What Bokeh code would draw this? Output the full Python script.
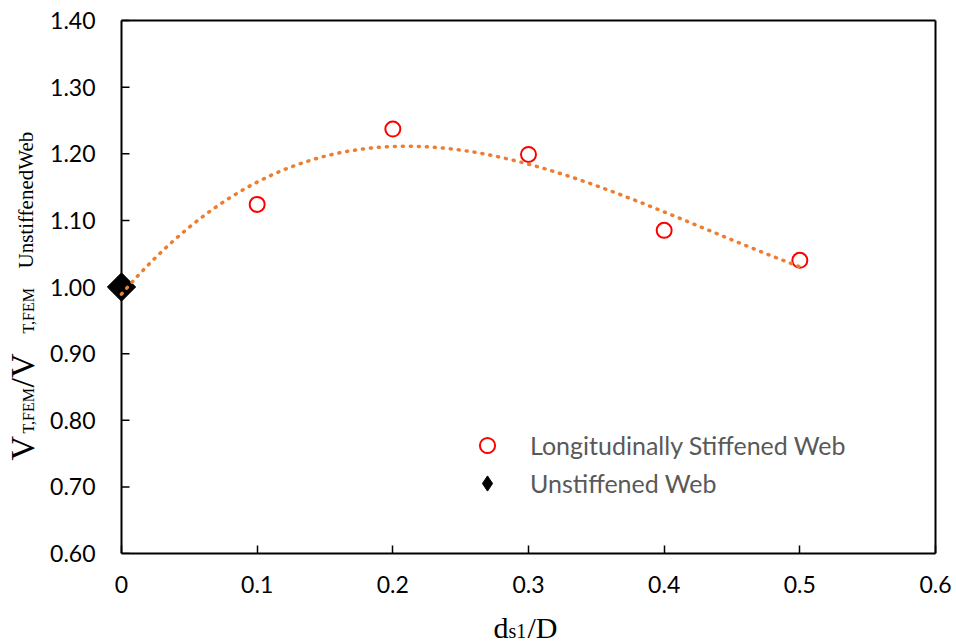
import numpy as np
from bokeh.plotting import figure
from bokeh.layouts import row, column
from bokeh.models import (ColumnDataSource, Legend, LegendItem, Label, FixedTicker,
                          NumeralTickFormatter, Range1d)
from bokeh.embed import file_html
from bokeh.resources import INLINE

# ---- data ----
stiff_x = [0.0, 0.1, 0.2, 0.3, 0.4, 0.5]
stiff_y = [1.000, 1.124, 1.237, 1.199, 1.085, 1.040]
unstiff_x = [0.0]
unstiff_y = [1.000]
x_ticks = [0.0, 0.1, 0.2, 0.3, 0.4, 0.5, 0.6]
y_ticks = [0.6, 0.7, 0.8, 0.9, 1.0, 1.1, 1.2, 1.3, 1.4]

# polynomial (order 3) trendline fitted to the stiffened-web series
coef = np.polyfit(stiff_x, stiff_y, 3)
trend_x = np.linspace(min(stiff_x), max(stiff_x), 200)
trend_y = np.polyval(coef, trend_x)

# ---- geometry (pixels) ----
W, H = 956, 643
LW = 45            # width of the left strip carrying the y title
BH = 40            # height of the bottom strip carrying the x title
MW, MH = W - LW, H - BH
AX0, AX1 = 121, 935   # canvas x of x=0 and x=0.6
AY1, AY0 = 20, 553    # canvas y of y=1.4 and y=0.6
FL, FR, FT = 106, 937, 18   # frame edges (slightly wider so edge markers are not cut)

xmin, xmax = min(x_ticks), max(x_ticks)
ymin, ymax = min(y_ticks), max(y_ticks)
dx = (xmax - xmin) / (AX1 - AX0)
dy = (ymax - ymin) / (AY0 - AY1)

p = figure(width=MW, height=MH, output_backend="svg", toolbar_location=None,
           x_range=Range1d(xmin - (AX0 - FL) * dx, xmax + (FR - AX1) * dx),
           y_range=Range1d(ymin, ymax + (AY1 - FT) * dy),
           min_border_left=FL - LW, min_border_right=W - FR,
           min_border_top=FT, min_border_bottom=MH - AY0)
p.grid.visible = False
p.outline_line_color = None
p.background_fill_color = "white"
p.border_fill_color = "white"

xa, ya = p.xaxis[0], p.yaxis[0]
xa.bounds = (xmin, xmax)
xa.axis_line_color = "black"
xa.axis_line_width = 2
xa.major_tick_in = 8
xa.major_tick_out = 0
xa.major_tick_line_color = "black"
xa.major_tick_line_width = 1.5
xa.minor_tick_line_color = None
xa.ticker = FixedTicker(ticks=x_ticks)
xa.formatter = NumeralTickFormatter(format="0.[0]")
xa.major_label_standoff = 22

ya.axis_line_color = None
ya.major_tick_line_color = None
ya.minor_tick_line_color = None
ya.major_tick_out = 0
ya.major_tick_in = 0
ya.axis_label_standoff = 0
ya.ticker = FixedTicker(ticks=y_ticks)
ya.formatter = NumeralTickFormatter(format="0.00")
ya.major_label_standoff = 11

for ax in (xa, ya):
    ax.major_label_text_font = "Lato"
    ax.major_label_text_font_size = "23px"
    ax.major_label_text_color = "black"

# frame box and inner y ticks (Excel style axis at x = 0)
p.segment(x0=[xmin, xmin, xmax], y0=[ymin, ymax, ymin],
          x1=[xmin, xmax, xmax], y1=[ymax, ymax, ymax],
          line_color="black", line_width=2)
p.segment(x0=[xmin] * len(y_ticks), y0=y_ticks,
          x1=[xmin + 8 * dx] * len(y_ticks), y1=y_ticks,
          line_color="black", line_width=1.5)

src_s = ColumnDataSource(dict(x=stiff_x[1:], y=stiff_y[1:]))
src_u = ColumnDataSource(dict(x=unstiff_x, y=unstiff_y))

# small diamond used as the legend symbol (hidden beneath the big marker)
r_u_leg = p.scatter("x", "y", source=src_u, marker="diamond", size=10,
                    fill_color="black", line_color="black")
r_u = p.scatter("x", "y", source=src_u, marker="square", angle=np.pi / 4, size=20,
                fill_color="black", line_color="black")
r_s = p.scatter("x", "y", source=src_s, marker="circle", size=15,
                fill_color="white", line_color="#FF0000", line_width=2)
p.line(trend_x, trend_y, line_color="#ED7D31", line_width=3.5,
       line_dash="1 7", line_cap="round")

legend = Legend(items=[LegendItem(label="Longitudinally Stiffened Web", renderers=[r_s]),
                       LegendItem(label="Unstiffened Web", renderers=[r_u_leg])],
                location=(467 - FL, 51), glyph_width=40, glyph_height=38, spacing=0,
                padding=0, margin=0, label_standoff=23,
                label_text_font="Lato", label_text_font_size="25px",
                label_text_color="#595959", background_fill_alpha=0,
                border_line_color=None)
p.add_layout(legend, "center")

DESC = 0.22  # descent of the serif font, as a fraction of its size

# ---- left strip: y title built from pieces (baseline at x = 33) ----
pl = figure(width=LW, height=H, output_backend="svg", toolbar_location=None,
            x_axis_location=None, y_axis_location=None, min_border=0,
            x_range=Range1d(0, 1), y_range=Range1d(0, 1))
pl.outline_line_color = None
pl.grid.visible = False
ypieces = [("V", 34, 460), ("T,FEM", 16, 433), ("/V", 34, 387),
           ("T,FEM", 16, 333), ("UnstiffenedWeb", 21, 268)]
for txt, fs, ystart in ypieces:
    pl.add_layout(Label(x=33 + DESC * fs, y=H - ystart, x_units="screen", y_units="screen",
                        text=txt, angle=np.pi / 2, text_align="left",
                        text_baseline="bottom", text_font="Liberation Serif",
                        text_font_size=f"{fs}px", text_color="black"))

# ---- bottom strip: x title built from pieces (baseline at y = 637) ----
# the strip's frame is aligned with the main frame (starts at canvas x = FL)
pb = figure(width=MW, height=BH, output_backend="svg", toolbar_location=None,
            x_axis_location=None, y_axis_location=None, min_border=0,
            x_range=Range1d(0, 1), y_range=Range1d(0, 1))
pb.outline_line_color = None
pb.grid.visible = False
xpieces = [("d", 30, 493), ("s1", 20, 508), ("/D", 30, 527)]
for txt, fs, xstart in xpieces:
    pb.add_layout(Label(x=xstart - FL, y=H - 637 - DESC * fs, x_units="screen",
                        y_units="screen", text=txt, text_align="left",
                        text_baseline="bottom", text_font="Liberation Serif",
                        text_font_size=f"{fs}px", text_color="black"))

layout = row(pl, column(p, pb, spacing=0), spacing=0)
open("out.html", "w").write(file_html(layout, INLINE))
